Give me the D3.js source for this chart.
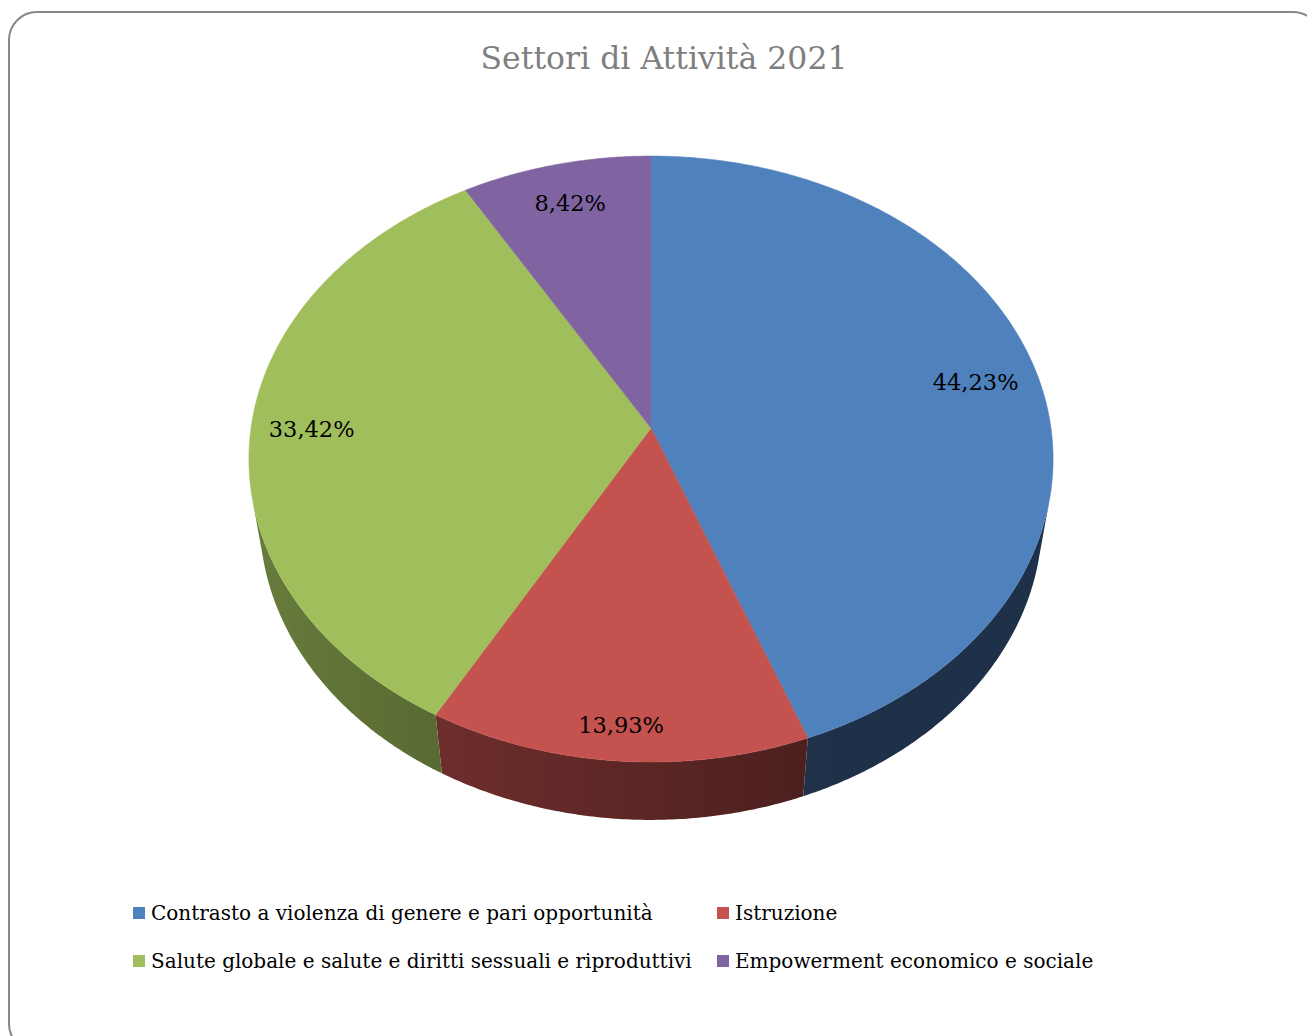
<!DOCTYPE html>
<html>
<head>
<meta charset="utf-8">
<script src="https://cdn.jsdelivr.net/npm/d3@7"></script>
<style>
  html, body { margin: 0; padding: 0; background: #fff; }
  svg { display: block; }
</style>
</head>
<body>
<div id="chart"></div>
<script>
const title = "Settori di Attività 2021";
const categories = [
  "Contrasto a violenza di genere e pari opportunità",
  "Istruzione",
  "Salute globale e salute e diritti sessuali e riproduttivi",
  "Empowerment economico e sociale"
];
const values = [44.23, 13.93, 33.42, 8.42];
const colors = ["#4F81BD", "#C4524F", "#A0BF5C", "#8064A2"];

let w = 1307;
let h = 1036;

let svg = d3.select("#chart")
  .append("svg")
  .attr("width", w)
  .attr("height", h)
  .style("font-family", "'DejaVu Serif', 'Liberation Serif', serif");

let defs = svg.append("defs");

// frame
svg.append("rect")
  .attr("x", 9).attr("y", 12)
  .attr("width", 1312).attr("height", 1040)
  .attr("rx", 28).attr("ry", 28)
  .attr("fill", "none")
  .attr("stroke", "#878787")
  .attr("stroke-width", 2);

svg.append("text")
  .attr("x", 664).attr("y", 69)
  .attr("text-anchor", "middle")
  .attr("fill", "#7F7F7F")
  .attr("font-size", 31.5)
  .text(title);

// perspective camera for the 3D pie (radius = 1)
let cx = 651, cy = 428;
let tilt = 48.55 * Math.PI / 180;
let camDist = 6.47;
let focal = 2588;
let thick = 0.237;

function project(X, Y, Z) {
  let up = Y * Math.cos(tilt) + Z * Math.sin(tilt);
  let fwd = Z * Math.cos(tilt) - Y * Math.sin(tilt);
  let depth = camDist + fwd;
  return [cx + focal * X / depth, cy - focal * up / depth];
}
function rim(a, r, Y) {
  return project(r * Math.sin(a), Y, r * Math.cos(a));
}

let pie = d3.pie().sort(null).value(d => d);
let arcs = pie(values);

let line = d3.line();
let step = Math.PI / 360;

// outer wall is visible where the normal faces the camera
let limit = Math.acos(-1 / (camDist * Math.cos(tilt)));
let visLo = limit, visHi = 2 * Math.PI - limit;

function shade(col, a) {
  let k = Math.max(0.38, Math.min(0.72, 0.46 - 0.2 * Math.sin(a)));
  let c = d3.rgb(col);
  return d3.rgb(c.r * k, c.g * k, c.b * k).toString();
}

let walls = svg.append("g");
arcs.forEach(function (s, i) {
  let a0 = Math.max(s.startAngle, visLo);
  let a1 = Math.min(s.endAngle, visHi);
  if (a1 <= a0) return;
  let topPts = [], botPts = [];
  for (let a = a0; a < a1; a += step) {
    topPts.push(rim(a, 1, 0));
    botPts.push(rim(a, 1, -thick));
  }
  topPts.push(rim(a1, 1, 0));
  botPts.push(rim(a1, 1, -thick));
  let pts = topPts.concat(botPts.reverse());

  let xs = pts.map(p => p[0]);
  let x0 = d3.min(xs), x1 = d3.max(xs);
  let grad = defs.append("linearGradient")
    .attr("id", "wall" + i)
    .attr("gradientUnits", "userSpaceOnUse")
    .attr("x1", x0).attr("y1", 0)
    .attr("x2", x1).attr("y2", 0);
  let n = 12;
  for (let k = 0; k <= n; k++) {
    let a = a0 + (a1 - a0) * k / n;
    let px = rim(a, 1, 0)[0];
    grad.append("stop")
      .attr("offset", (x1 > x0 ? (px - x0) / (x1 - x0) : 0))
      .attr("stop-color", shade(colors[i], a));
  }
  // stops need to be in increasing offset order
  let stops = grad.selectAll("stop").nodes()
    .sort((p, q) => +p.getAttribute("offset") - +q.getAttribute("offset"));
  stops.forEach(st => grad.node().appendChild(st));

  walls.append("path")
    .attr("d", line(pts) + "Z")
    .attr("fill", "url(#wall" + i + ")");
});

let tops = svg.append("g");
arcs.forEach(function (s, i) {
  let pts = [project(0, 0, 0)];
  for (let a = s.startAngle; a < s.endAngle; a += step) pts.push(rim(a, 1, 0));
  pts.push(rim(s.endAngle, 1, 0));
  tops.append("path")
    .attr("d", line(pts) + "Z")
    .attr("fill", colors[i])
    .attr("stroke", colors[i])
    .attr("stroke-width", 0.5);
});

// data labels, placed just inside the rim along the mid angle
let fmt = d3.format(".2f");
let center = project(0, 0, 0);
arcs.forEach(function (s, i) {
  let mid = (s.startAngle + s.endAngle) / 2;
  let edge = rim(mid, 1, 0);
  let dx = edge[0] - center[0], dy = edge[1] - center[1];
  let len = Math.hypot(dx, dy);
  let ux = dx / len, uy = dy / len;
  let t = svg.append("text")
    .attr("font-size", 22.5)
    .attr("fill", "#000")
    .attr("text-anchor", "middle")
    .text(fmt(values[i]).replace(".", ",") + "%");
  let bb = t.node().getBBox();
  let inset = 18 + Math.abs(ux) * bb.width / 2 + Math.abs(uy) * bb.height / 2;
  let lx = edge[0] - ux * inset;
  let ly = edge[1] - uy * inset;
  t.attr("x", lx).attr("y", ly + 7);
});

// legend
let legend = svg.append("g");
categories.forEach(function (c, i) {
  let x = i % 2 === 0 ? 133 : 717;
  let y = 913 + Math.floor(i / 2) * 48;
  legend.append("rect")
    .attr("x", x).attr("y", y - 6)
    .attr("width", 12).attr("height", 12)
    .attr("fill", colors[i]);
  legend.append("text")
    .attr("x", x + 18).attr("y", y + 7)
    .attr("font-size", 20)
    .attr("fill", "#000")
    .text(c);
});
</script>
</body>
</html>
